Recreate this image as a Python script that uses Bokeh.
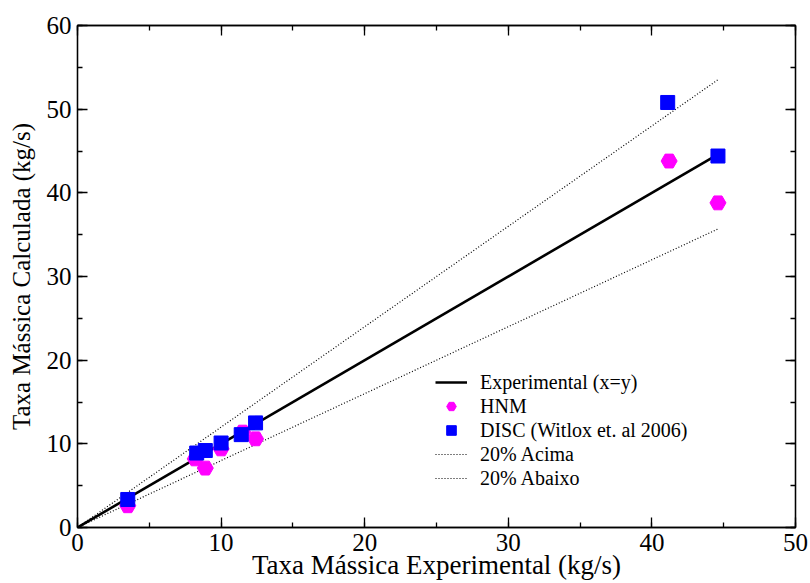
from bokeh.plotting import figure
from bokeh.models import (LinearAxis, Legend, LegendItem, Range1d,
                          SingleIntervalTicker, CustomLabelingPolicy)
from bokeh.embed import file_html
from bokeh.resources import INLINE

# Data
x_exp = [3.5, 8.2, 8.9, 10.0, 11.5, 12.4, 41.2, 44.6]
hnm = [2.6, 8.2, 7.1, 9.4, 11.4, 10.6, 43.8, 38.8]
disc_x = [3.5, 8.3, 8.9, 10.0, 11.4, 12.4, 41.1, 44.6]
disc = [3.35, 8.9, 9.2, 10.1, 11.1, 12.5, 50.8, 44.4]
line_x = [0, 44.6]
factor_up = 1.2
factor_down = 0.8

FONT = "Liberation Serif"

p = figure(width=810, height=583, output_backend="svg", toolbar_location=None,
           x_range=Range1d(0, 50), y_range=Range1d(0, 60),
           min_border_left=77, min_border_right=14, min_border_top=25, min_border_bottom=56,
           background_fill_color="white", border_fill_color="white")
p.grid.visible = False
p.outline_line_color = "black"
p.outline_line_width = 1.3

p.xaxis[0].ticker = SingleIntervalTicker(interval=10, num_minor_ticks=2)
p.yaxis[0].ticker = SingleIntervalTicker(interval=10, num_minor_ticks=2)

for ax in (p.xaxis[0], p.yaxis[0]):
    ax.major_tick_in = 10
    ax.major_tick_out = 0
    ax.minor_tick_in = 5
    ax.minor_tick_out = 0
    ax.major_label_text_font = FONT
    ax.major_label_text_font_size = "25px"
    ax.major_label_text_color = "black"
    ax.axis_label_text_font = FONT
    ax.axis_label_text_font_style = "normal"
    ax.axis_label_text_color = "black"
    ax.axis_line_color = "black"
    ax.axis_line_width = 1.3
    ax.major_tick_line_width = 1.3
    ax.minor_tick_line_width = 1.3

p.xaxis.axis_label = "Taxa Mássica Experimental (kg/s)"
p.yaxis.axis_label = "Taxa Mássica Calculada (kg/s)"
p.xaxis.axis_label_text_font_size = "27px"
p.yaxis.axis_label_text_font_size = "25px"
p.xaxis.major_label_standoff = 6
p.xaxis.axis_label_standoff = -4
p.yaxis.major_label_standoff = 6
p.yaxis.axis_label_standoff = 9

top = LinearAxis(ticker=SingleIntervalTicker(interval=10, num_minor_ticks=2))
right = LinearAxis(ticker=SingleIntervalTicker(interval=10, num_minor_ticks=2))
for ax in (top, right):
    ax.major_tick_in = 10
    ax.major_tick_out = 0
    ax.minor_tick_in = 5
    ax.minor_tick_out = 0
    ax.major_label_policy = CustomLabelingPolicy(code="return []")
    ax.major_label_standoff = 0
    ax.axis_line_color = "black"
    ax.axis_line_width = 1.3
    ax.major_tick_line_width = 1.3
    ax.minor_tick_line_width = 1.3
p.add_layout(top, "above")
p.add_layout(right, "right")

r_exp = p.line(line_x, line_x, line_color="black", line_width=2.6)
r_up = p.line(line_x, [v * factor_up for v in line_x], line_color="black",
              line_width=1.2, line_dash="1 2")
r_down = p.line(line_x, [v * factor_down for v in line_x], line_color="black",
                line_width=1.2, line_dash="1 2")
r_hnm = p.scatter(x_exp, hnm, marker="hex", size=16, fill_color="magenta",
                  line_color="magenta")
r_disc = p.scatter(disc_x, disc, marker="square", size=14, fill_color="blue",
                   line_color="blue")

legend = Legend(items=[
    LegendItem(label="Experimental (x=y)", renderers=[r_exp]),
    LegendItem(label="HNM", renderers=[r_hnm]),
    LegendItem(label="DISC (Witlox et. al 2006)", renderers=[r_disc]),
    LegendItem(label="20% Acima", renderers=[r_up]),
    LegendItem(label="20% Abaixo", renderers=[r_down]),
], location=(358, 37))
legend.border_line_color = None
legend.background_fill_alpha = 0
legend.label_text_font = FONT
legend.label_text_font_size = "20px"
legend.label_text_color = "black"
legend.glyph_width = 32
legend.glyph_height = 24
legend.label_height = 24
legend.spacing = 0
legend.padding = 0
legend.margin = 0
legend.label_standoff = 13
p.add_layout(legend, "center")

open("out.html", "w").write(file_html(p, INLINE))
